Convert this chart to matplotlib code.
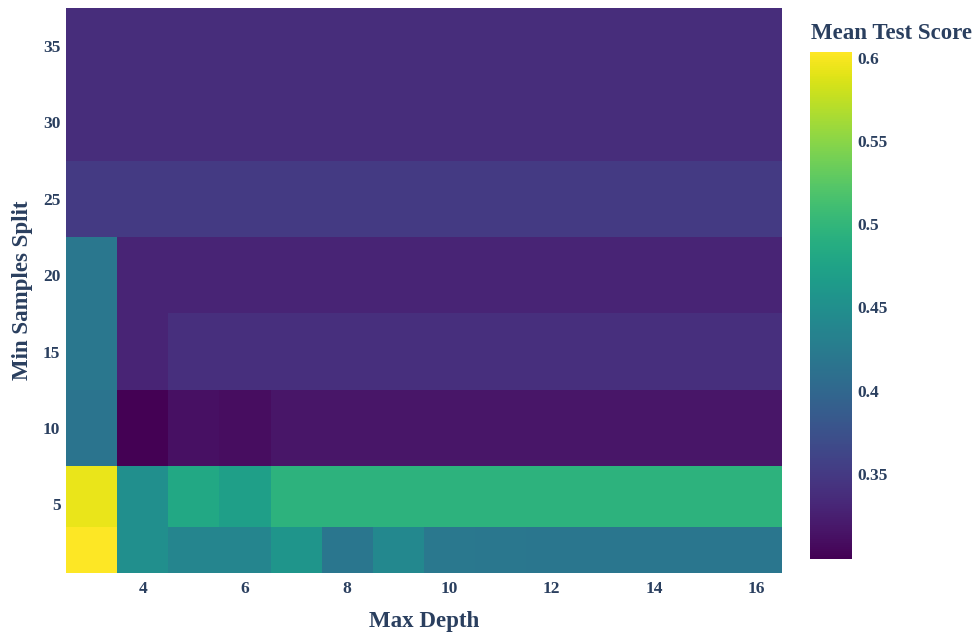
import numpy as np
import matplotlib.pyplot as plt

plt.rcParams['font.family'] = ['Liberation Serif', 'DejaVu Serif']
plt.rcParams['font.weight'] = 'bold'
plt.rcParams['axes.labelweight'] = 'bold'

max_depth = [3, 4, 5, 6, 7, 8, 9, 10, 11, 12, 13, 14, 15, 16]
min_samples_split = [2, 5, 10, 15, 20, 25, 30, 35]

# mean test score per (min_samples_split, max_depth)
row_2 = [0.6036, 0.449, 0.438, 0.438, 0.458, 0.418, 0.441, 0.421, 0.420, 0.419, 0.419, 0.419, 0.419, 0.419]
row_5 = [0.594, 0.450, 0.482, 0.470, 0.495, 0.495, 0.495, 0.495, 0.495, 0.495, 0.495, 0.495, 0.495, 0.495]
row_10 = [0.416, 0.299, 0.311, 0.309, 0.316, 0.316, 0.316, 0.316, 0.316, 0.316, 0.316, 0.316, 0.316, 0.316]
row_15 = [0.420, 0.329, 0.340, 0.340, 0.340, 0.340, 0.340, 0.340, 0.340, 0.340, 0.340, 0.340, 0.340, 0.340]
row_20 = [0.420, 0.329, 0.329, 0.329, 0.329, 0.329, 0.329, 0.329, 0.329, 0.329, 0.329, 0.329, 0.329, 0.329]
row_25 = [0.351] * 14
row_30 = [0.337] * 14
row_35 = [0.337] * 14

scores = np.array([row_2, row_5, row_10, row_15, row_20, row_25, row_30, row_35])

x = np.array(max_depth, dtype=float)
y = np.array(min_samples_split, dtype=float)

def cell_edges(v):
    mid = (v[:-1] + v[1:]) / 2
    first = v[0] - (mid[0] - v[0])
    last = v[-1] + (v[-1] - mid[-1])
    return np.concatenate([[first], mid, [last]])

text_color = '#2a3f5f'

fig = plt.figure(figsize=(9.8, 6.37), dpi=100)
ax = fig.add_axes([0.0673, 0.1005, 0.7306, 0.887])
cax = fig.add_axes([0.8268, 0.1224, 0.0429, 0.7964])

mesh = ax.pcolormesh(cell_edges(x), cell_edges(y), scores, cmap='viridis',
                     vmin=0.2989, vmax=0.6036)

ax.set_xticks([4, 6, 8, 10, 12, 14, 16])
ax.set_yticks([5, 10, 15, 20, 25, 30, 35])
ax.tick_params(length=0, labelsize=12.5, colors=text_color)
ax.tick_params(axis='y', pad=4)
ax.tick_params(axis='x', pad=6)
for s in ax.spines.values():
    s.set_visible(False)
ax.set_xlabel('Max Depth', fontsize=16.5, color=text_color, labelpad=10)
ax.set_ylabel('Min Samples Split', fontsize=16.5, color=text_color, labelpad=7)

cb = fig.colorbar(mesh, cax=cax)
cb.outline.set_visible(False)
cb.set_ticks([0.35, 0.4, 0.45, 0.5, 0.55, 0.6])
cb.set_ticklabels(['0.35', '0.4', '0.45', '0.5', '0.55', '0.6'])
cax.tick_params(length=0, labelsize=12.5, colors=text_color, pad=4)
fig.text(0.8276, 0.947, 'Mean Test Score', fontsize=16.5, color=text_color,
         ha='left', va='center', fontweight='bold')

fig.savefig('out.png', dpi=100)
